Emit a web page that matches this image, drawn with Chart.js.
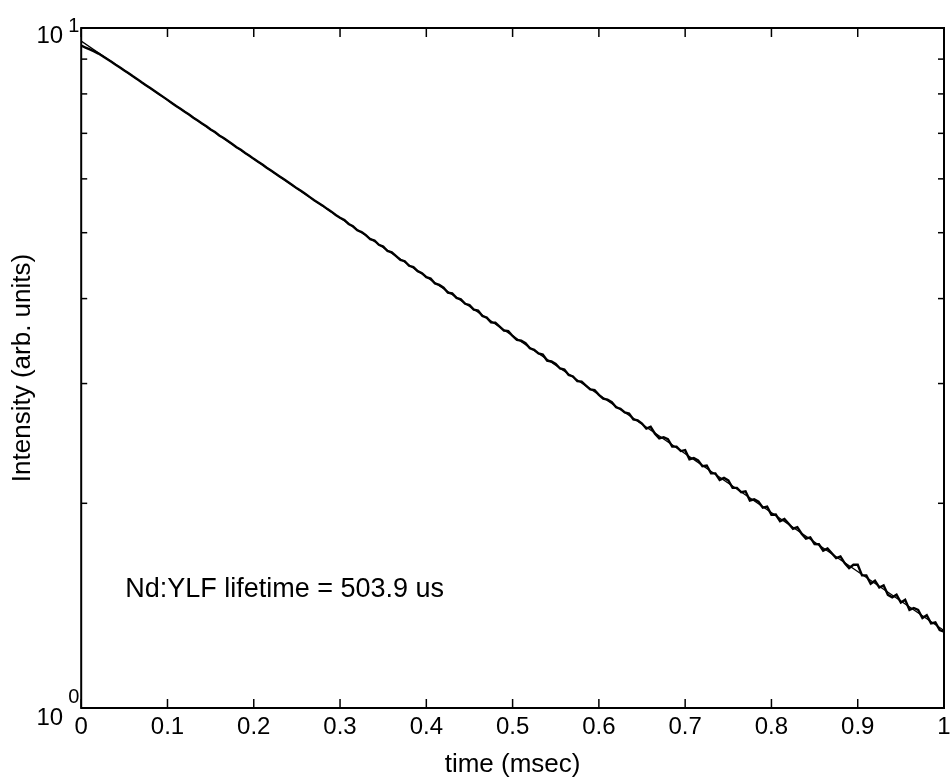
<!DOCTYPE html>
<html>
<head>
<meta charset="utf-8">
<script src="https://cdn.jsdelivr.net/npm/chart.js@4"></script>
<style>
  body { margin: 0; background: #fff; }
</style>
</head>
<body>
<canvas id="myChart" width="950" height="780"></canvas>
<script>
  // sample times (msec), one every 0.005

  var times = [];
  for (var i = 0; i <= 200; i++) {
    times.push(i / 200);
  }

  var intensity = [
    9.42, 9.36, 9.30, 9.24, 9.17, 9.09, 9.00, 8.92, 8.83, 8.75,
    8.66, 8.58, 8.49, 8.41, 8.32, 8.24, 8.16, 8.08, 8.00, 7.92,
    7.84, 7.76, 7.68, 7.61, 7.53, 7.46, 7.38, 7.31, 7.24, 7.17,
    7.09, 7.03, 6.95, 6.89, 6.82, 6.75, 6.68, 6.62, 6.55, 6.49,
    6.42, 6.36, 6.30, 6.23, 6.17, 6.11, 6.05, 5.99, 5.93, 5.87,
    5.81, 5.76, 5.70, 5.64, 5.58, 5.53, 5.48, 5.42, 5.37, 5.31,
    5.26, 5.22, 5.15, 5.11, 5.04, 5.01, 4.96, 4.89, 4.87, 4.80,
    4.77, 4.70, 4.68, 4.62, 4.56, 4.54, 4.47, 4.45, 4.39, 4.36,
    4.30, 4.28, 4.21, 4.19, 4.15, 4.08, 4.07, 4.01, 3.99, 3.93,
    3.912, 3.853, 3.840, 3.770, 3.751, 3.691, 3.686, 3.639, 3.590, 3.583,
    3.525, 3.479, 3.469, 3.440, 3.380, 3.363, 3.322, 3.310, 3.243, 3.233,
    3.205, 3.157, 3.146, 3.089, 3.073, 3.024, 3.020, 2.980, 2.941, 2.935,
    2.887, 2.850, 2.841, 2.817, 2.768, 2.754, 2.720, 2.711, 2.657, 2.648,
    2.620, 2.575, 2.591, 2.532, 2.492, 2.502, 2.485, 2.423, 2.423, 2.387,
    2.394, 2.322, 2.331, 2.313, 2.267, 2.273, 2.213, 2.213, 2.165, 2.180,
    2.161, 2.107, 2.107, 2.076, 2.083, 2.019, 2.027, 2.011, 1.971, 1.978,
    1.924, 1.925, 1.883, 1.896, 1.866, 1.835, 1.845, 1.804, 1.775, 1.782,
    1.742, 1.741, 1.704, 1.716, 1.689, 1.661, 1.671, 1.632, 1.606, 1.624,
    1.624, 1.567, 1.567, 1.523, 1.539, 1.504, 1.515, 1.467, 1.455, 1.468,
    1.429, 1.443, 1.394, 1.403, 1.394, 1.356, 1.369, 1.332, 1.336, 1.302,
    1.295
  ];

  // single exponential fit, end points
  var fitTimes = [0, 1];
  var fitIntensity = [9.57, 1.30];

  var xTickValues = [0, 0.1, 0.2, 0.3, 0.4, 0.5, 0.6, 0.7, 0.8, 0.9, 1];
  var yMinorValues = [2, 3, 4, 5, 6, 7, 8, 9];
  var yDecades = [1, 10];
  var note = 'Nd:YLF lifetime = 503.9 us';
  var noteAt = [0.051, 1.458];

  var FONT = "'Liberation Sans', Arial, Helvetica, sans-serif";

  var measured = times.map(function(t, k) { return {x: t, y: intensity[k]}; });
  var fitted = fitTimes.map(function(t, k) { return {x: t, y: fitIntensity[k]}; });

  // box, inward ticks, decade labels and the note

  var frame = {
    id: 'frame',
    afterDraw: function(chart) {
      var ctx = chart.ctx;
      var a = chart.chartArea;
      var xs = chart.scales.x;
      var ys = chart.scales.y;

      function seg(x1, y1, x2, y2) {
        ctx.beginPath();
        ctx.moveTo(x1, y1);
        ctx.lineTo(x2, y2);
        ctx.stroke();
      }

      ctx.save();
      ctx.strokeStyle = '#000';
      ctx.lineWidth = 2;
      ctx.strokeRect(a.left, a.top, a.right - a.left, a.bottom - a.top);

      ctx.lineWidth = 1.5;
      xTickValues.forEach(function(v) {
        var px = xs.getPixelForValue(v);
        seg(px, a.bottom, px, a.bottom - 9);
        seg(px, a.top, px, a.top + 9);
      });
      yMinorValues.forEach(function(v) {
        var py = ys.getPixelForValue(v);
        seg(a.left, py, a.left + 6, py);
        seg(a.right, py, a.right - 6, py);
      });

      ctx.fillStyle = '#000';
      ctx.textBaseline = 'alphabetic';
      yDecades.forEach(function(v) {
        var py = ys.getPixelForValue(v);
        var exp = String(Math.round(Math.log10(v)));
        var base = v === 1 ? py + 17 : py + 15;
        var sup = v === 1 ? py - 5 : py + 4;
        ctx.font = '24px ' + FONT;
        ctx.textAlign = 'right';
        ctx.fillText('10', a.left - 18, base);
        ctx.font = '20px ' + FONT;
        ctx.textAlign = 'left';
        ctx.fillText(exp, a.left - 13, sup);
      });

      ctx.font = '27px ' + FONT;
      ctx.textAlign = 'left';
      ctx.fillText(note, xs.getPixelForValue(noteAt[0]), ys.getPixelForValue(noteAt[1]));
      ctx.restore();
    }
  };

  var config = {
    type: 'line',
    data: {
      datasets: [{
        label: 'Nd:YLF',
        data: measured,
        borderColor: '#000',
        borderWidth: 2.4,
        pointRadius: 0,
        fill: false
      }, {
        label: 'fit',
        data: fitted,
        borderColor: '#000',
        borderWidth: 1.3,
        pointRadius: 0,
        fill: false
      }]
    },
    options: {
      responsive: false,
      animation: false,
      layout: { padding: { left: 7, top: 28, right: 0, bottom: 0 } },
      plugins: {
        legend: { display: false },
        tooltip: { enabled: false }
      },
      scales: {
        x: {
          type: 'linear',
          min: 0,
          max: 1,
          grid: { display: false, drawTicks: false },
          border: { display: false },
          // the last label may hang past the frame, like the original
          afterFit: function(scale) {
            scale.paddingLeft = 0;
            scale.paddingRight = 6;
          },
          ticks: {
            stepSize: 0.1,
            color: '#000',
            padding: 5,
            maxRotation: 0,
            font: { family: FONT, size: 24 },
            callback: function(v) { return String(Number(v.toFixed(1))); }
          },
          title: {
            display: true,
            text: 'time (msec)',
            color: '#000',
            font: { family: FONT, size: 26 },
            padding: { top: 2, bottom: 0 }
          }
        },
        y: {
          type: 'logarithmic',
          min: 1,
          max: 10,
          grid: { display: false, drawTicks: false },
          border: { display: false },
          ticks: { display: false },
          title: {
            display: true,
            text: 'Intensity (arb. units)',
            color: '#000',
            font: { family: FONT, size: 26 },
            padding: { top: 0, bottom: 43 }
          }
        }
      }
    },
    plugins: [frame]
  };

  var myChart = new Chart(document.getElementById('myChart'), config);
</script>
</body>
</html>
